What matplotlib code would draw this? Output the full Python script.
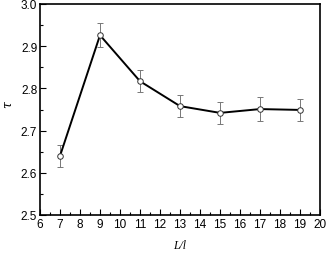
import matplotlib
matplotlib.use('Agg')
import matplotlib.pyplot as plt
from matplotlib.ticker import MultipleLocator

plt.rcParams['font.family'] = 'Liberation Sans'

ratio = [7, 9, 11, 13, 15, 17, 19]
tau = [2.640, 2.926, 2.817, 2.758, 2.742, 2.751, 2.749]
err = [0.026, 0.028, 0.026, 0.026, 0.026, 0.028, 0.027]

fig = plt.figure(figsize=(3.28, 2.55), dpi=100)
ax = fig.add_axes([40 / 328, 1 - 216 / 255, 280 / 328, 211 / 255])

ax.errorbar(ratio, tau, yerr=err, fmt='none', ecolor='#777777', elinewidth=0.7,
            capsize=2.5, capthick=0.7)
ax.plot(ratio, tau, color='black', lw=1.4, marker='o', ms=4,
        mfc='white', mec='#333333', mew=0.7)

ax.set_xlim(6, 20)
ax.set_ylim(2.5, 3.0)
ax.xaxis.set_major_locator(MultipleLocator(1))
ax.xaxis.set_minor_locator(MultipleLocator(0.5))
ax.yaxis.set_major_locator(MultipleLocator(0.1))
ax.yaxis.set_minor_locator(MultipleLocator(0.05))
ax.tick_params(which='both', direction='in', top=False, right=False,
               labelsize=8.5, pad=2)
ax.tick_params(which='major', length=4, width=0.8)
ax.tick_params(which='minor', length=2, width=0.8)
for s in ax.spines.values():
    s.set_linewidth(1.2)

ax.set_xlabel('L/l', family='Liberation Serif', style='italic', fontsize=8.5)
ax.set_ylabel('τ', family='DejaVu Serif', style='italic', fontsize=9)
ax.xaxis.set_label_coords(0.5, -0.115)
ax.yaxis.set_label_coords(-0.095, 0.53)

fig.savefig('out.png')
